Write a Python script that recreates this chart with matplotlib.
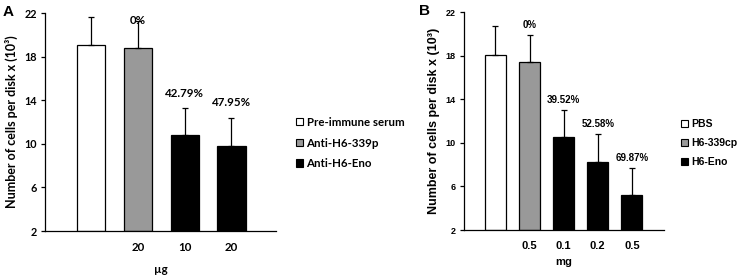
import matplotlib
matplotlib.use("Agg")
import matplotlib.pyplot as plt
from matplotlib.patches import Patch

# ---- Data panel A ----
a_groups = ["Pre-immune serum", "Anti-H6-339p", "Anti-H6-Eno"]
a_ticklabels = ["", "20", "10", "20"]
a_values = [19.1, 18.8, 10.8, 9.8]
a_errors = [2.5, 2.5, 2.45, 2.6]
a_group_idx = [0, 1, 2, 2]
a_pct = ["", "0%", "42.79%", "47.95%"]
a_xlabel = "µg"

# ---- Data panel B ----
b_groups = ["PBS", "H6-339cp", "H6-Eno"]
b_ticklabels = ["", "0.5", "0.1", "0.2", "0.5"]
b_values = [18.1, 17.4, 10.5, 8.2, 5.2]
b_errors = [2.6, 2.5, 2.5, 2.6, 2.5]
b_group_idx = [0, 1, 2, 2, 2]
b_pct = ["", "0%", "39.52%", "52.58%", "69.87%"]
b_xlabel = "mg"

yticks = [2, 6, 10, 14, 18, 22]
ylabel = "Number of cells per disk x (10³)"

group_colors = ["white", "#999999", "black"]

W, H = 737, 280
fig = plt.figure(figsize=(W / 100, H / 100), dpi=100)


def px_axes(l, r, t, b):
    return fig.add_axes([l / W, 1 - b / H, (r - l) / W, (b - t) / H])


def draw(ax, values, errors, gidx, ticklabels, pct, pct_off, xlabel, groups,
         xlim, width, font, fs_tick, fs_ytick, fs_pct, fs_lab, fs_leg,
         legend_anchor, xlabelpad):
    x = list(range(len(values)))
    cols = [group_colors[g] for g in gidx]
    ax.bar(x, [v - 2 for v in values], bottom=2, width=width, color=cols,
           edgecolor="black", linewidth=0.9, zorder=2)
    ax.errorbar(x, values, yerr=[[0] * len(errors), errors], fmt="none",
                ecolor="black", elinewidth=0.9, capsize=2.2, capthick=0.9, zorder=3)
    for xi, v, e, p, o in zip(x, values, errors, pct, pct_off):
        if p:
            ax.annotate(p, (xi, v + e), xytext=(0, o), textcoords="offset points",
                        ha="center", va="center", fontsize=fs_pct,
                        fontweight="bold", family=font)
    ax.set_ylim(2, 22)
    ax.set_xlim(*xlim)
    ax.set_yticks(yticks)
    ax.set_xticks(x)
    ax.set_xticklabels(ticklabels, fontsize=fs_tick, fontweight="bold", family=font)
    for lab in ax.get_yticklabels():
        lab.set_fontsize(fs_ytick)
        lab.set_fontweight("bold")
        lab.set_family(font)
    ax.tick_params(axis="x", length=0, pad=8)
    ax.tick_params(axis="y", length=3, width=0.9, direction="out", pad=3)
    for s in ["top", "right"]:
        ax.spines[s].set_visible(False)
    for s in ["left", "bottom"]:
        ax.spines[s].set_linewidth(0.9)
    ax.set_xlabel(xlabel, fontsize=fs_tick, fontweight="bold", family=font,
                  labelpad=xlabelpad)
    ax.set_ylabel(ylabel, fontsize=fs_lab, fontweight="bold", family=font, labelpad=4)
    handles = [Patch(facecolor=c, edgecolor="black", linewidth=0.8) for c in group_colors]
    ax.legend(handles, groups, loc="center left", bbox_to_anchor=legend_anchor,
              bbox_transform=fig.transFigure, frameon=False,
              handlelength=0.65, handleheight=0.65, handletextpad=0.3,
              labelspacing=0.85, borderaxespad=0,
              prop={"family": font, "weight": "bold", "size": fs_leg})


axA = px_axes(45, 276, 13, 231)
draw(axA, a_values, a_errors, a_group_idx, a_ticklabels, a_pct, [6, 0, 11, 11],
     a_xlabel, a_groups, (-0.98, 3.95), 0.6, "Lato", 8.3, 7.8, 8.3, 9, 8.3,
     (291 / W, 1 - 143 / H), 8)
fig.text(3 / W, 1 - 12 / H, "A", fontsize=11, fontweight="bold", family="Liberation Sans",
         va="center", ha="left")

axB = px_axes(464, 664, 12, 230)
draw(axB, b_values, b_errors, b_group_idx, b_ticklabels, b_pct, [7, 7, 7, 7, 7],
     b_xlabel, b_groups, (-0.92, 4.94), 0.62, "Liberation Sans", 8, 6.5, 7, 9, 7.5,
     (677 / W, 1 - 143 / H), 4)
fig.text(419 / W, 1 - 11 / H, "B", fontsize=11, fontweight="bold", family="Liberation Sans",
         va="center", ha="left")

fig.savefig("out.png", dpi=100)
